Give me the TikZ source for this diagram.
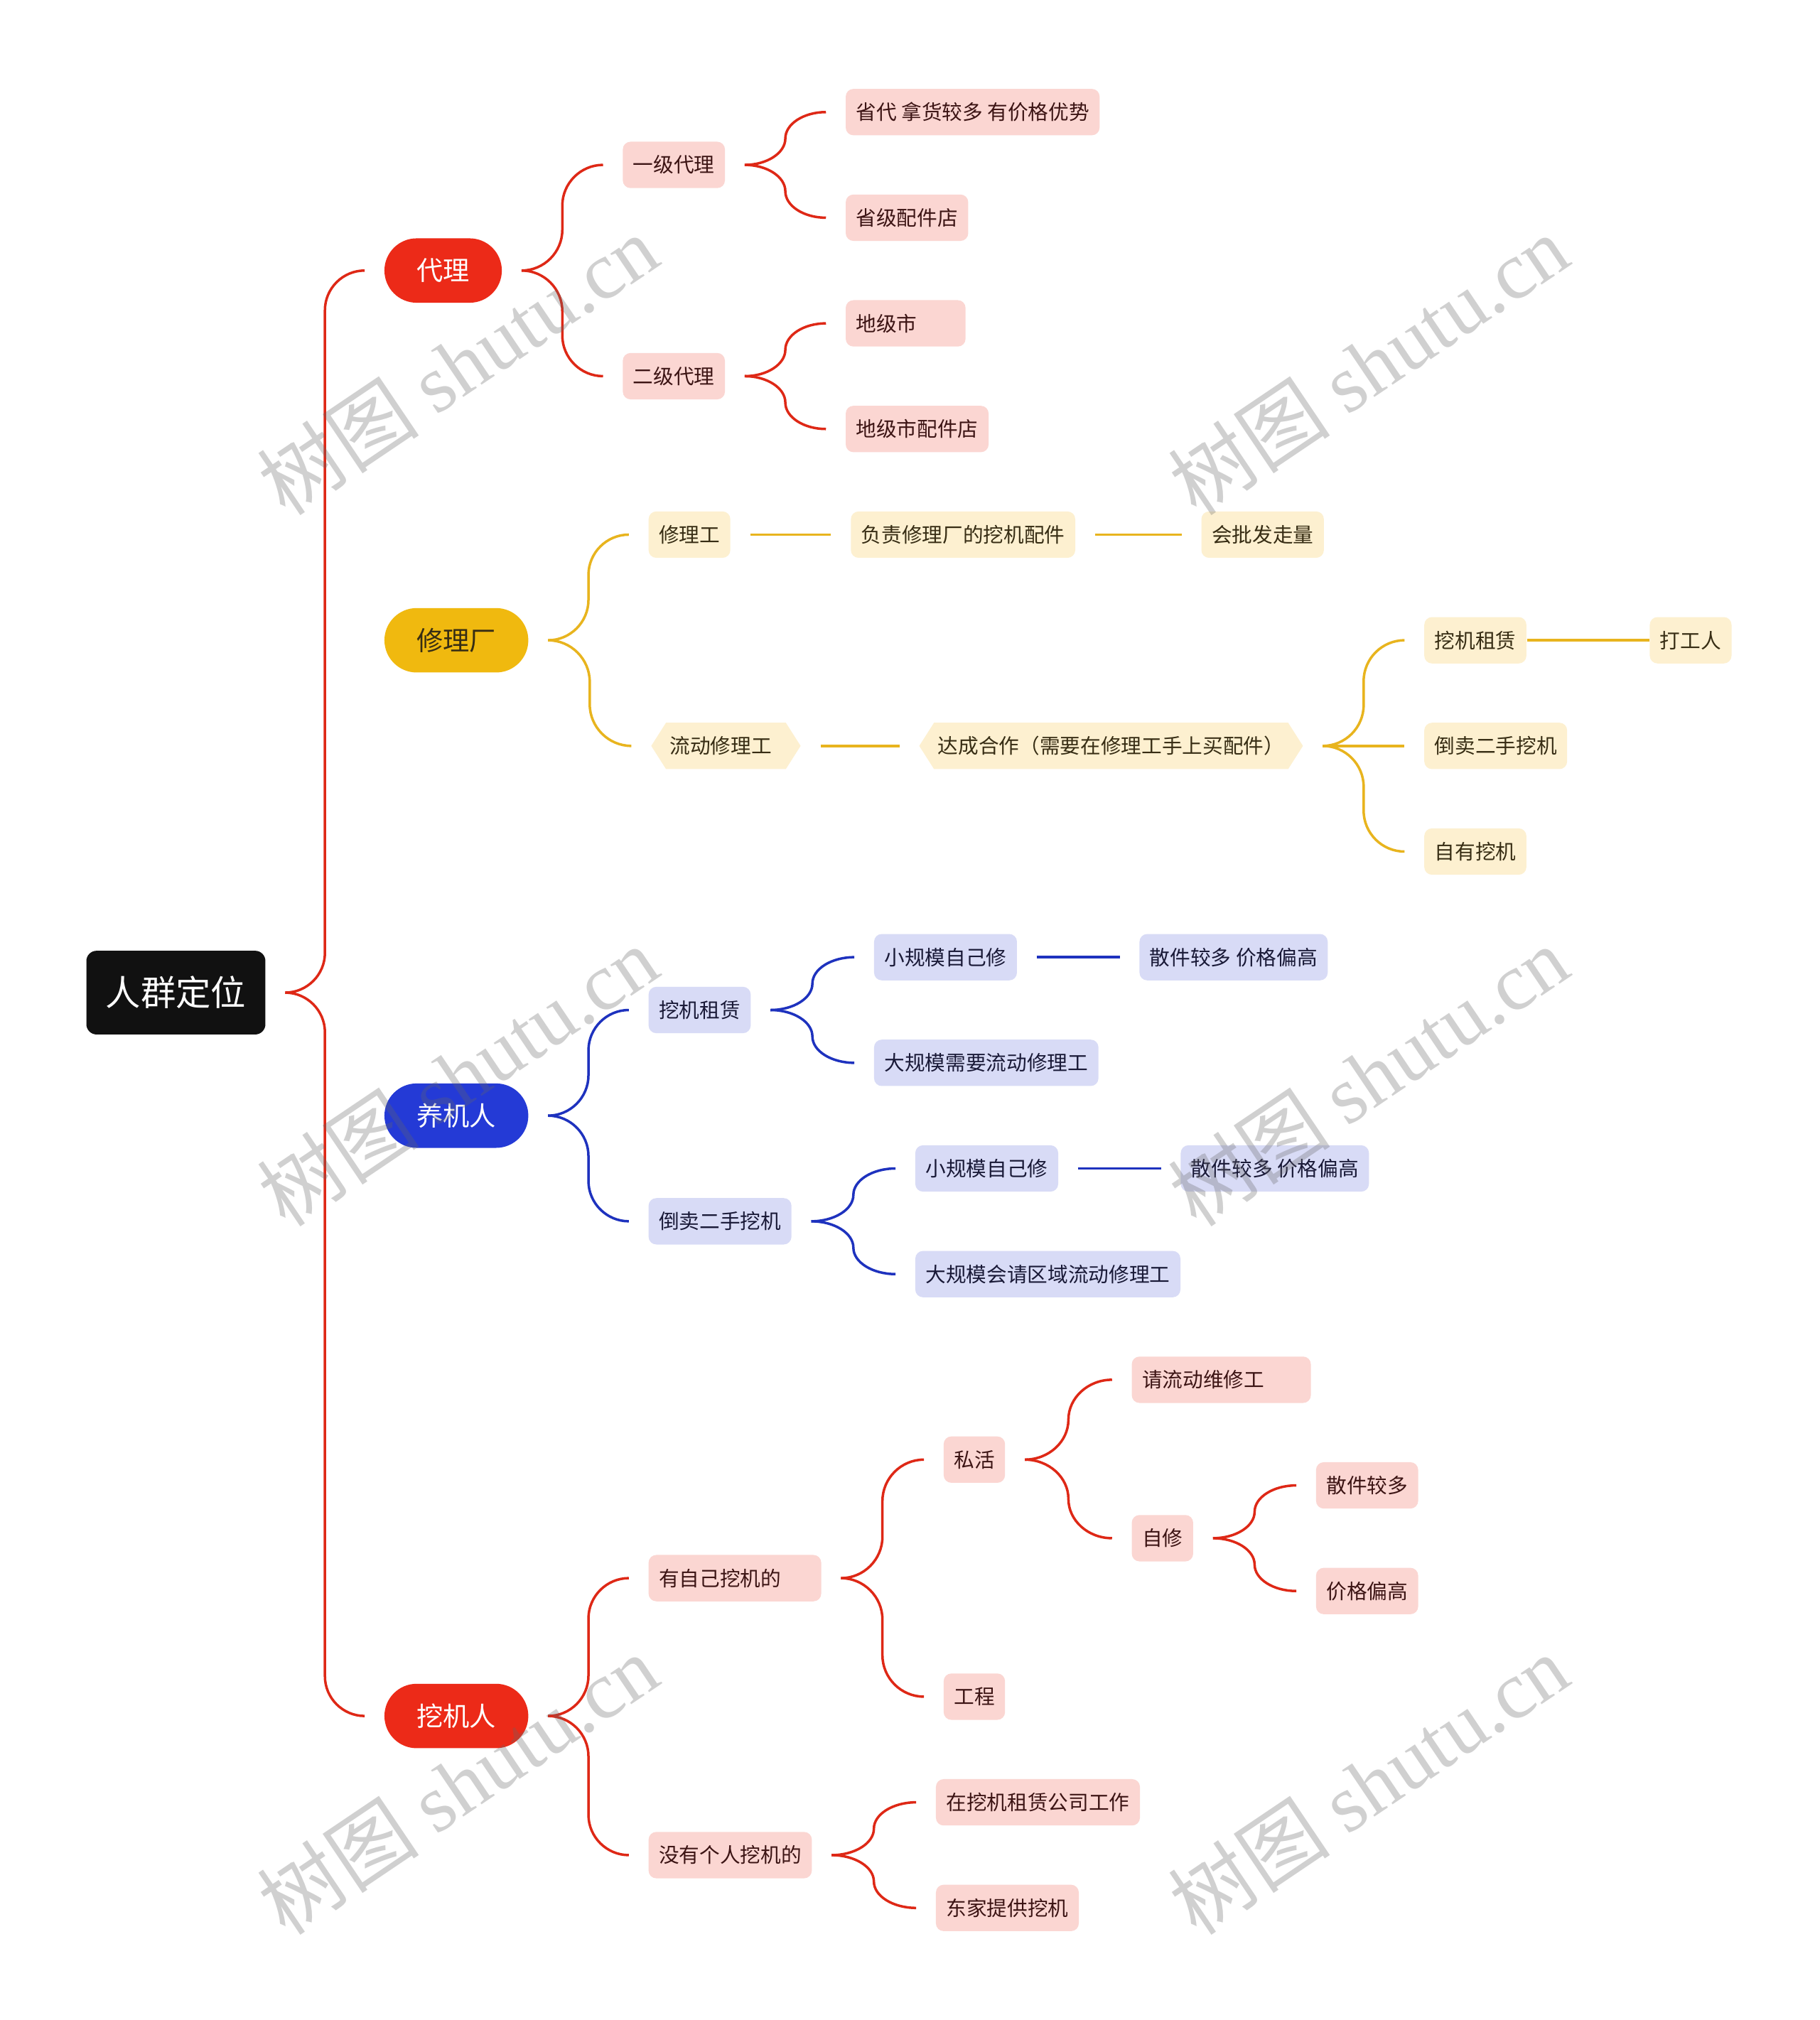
\documentclass[tikz,border=0pt]{standalone}
\usepackage{fontspec}
\setmainfont{Noto Sans CJK SC}
\newfontfamily\wmserif{Liberation Serif}
\usepackage{xcolor}
\usetikzlibrary{calc,shapes.symbols}
\definecolor{rootblack}{RGB}{17,17,17}
\definecolor{mapred}{RGB}{236,42,24}
\definecolor{mapyellow}{RGB}{240,185,15}
\definecolor{mapblue}{RGB}{36,58,214}
\definecolor{pinkbg}{RGB}{251,214,210}
\definecolor{creambg}{RGB}{253,240,208}
\definecolor{lavenderbg}{RGB}{216,219,246}
\definecolor{redtext}{RGB}{60,20,20}
\definecolor{browntext}{RGB}{55,45,20}
\definecolor{navytext}{RGB}{25,25,55}
\definecolor{redline}{RGB}{222,40,22}
\definecolor{yellowline}{RGB}{232,180,30}
\definecolor{blueline}{RGB}{30,50,190}

\tikzset{
  rootbox/.style={fill=rootblack,text=white,rounded corners=0.16cm,
    minimum width=2.78cm,minimum height=1.3cm,font=\fontsize{15.5}{18}\selectfont},
  topic/.style={anchor=west,rounded corners=0.5cm,minimum height=1cm,
    inner xsep=0.5cm,inner ysep=0pt,font=\fontsize{11.7}{14}\selectfont},
  leaf/.style={anchor=west,rounded corners=0.12cm,minimum height=0.72cm,
    inner xsep=0.16cm,inner ysep=0pt,align=left,font=\fontsize{9}{11}\selectfont},
  redleaf/.style={leaf,fill=pinkbg,text=redtext},
  yellowleaf/.style={leaf,fill=creambg,text=browntext},
  blueleaf/.style={leaf,fill=lavenderbg,text=navytext},
  hexleaf/.style={anchor=west,shape=signal,signal to=west and east,
    signal pointer angle=115,fill=creambg,text=browntext,minimum height=0.72cm,
    inner xsep=0.06cm,inner ysep=0pt,align=left,font=\fontsize{9}{11}\selectfont},
  redlink/.style={draw=redline,line width=1.1pt},
  yellowlink/.style={draw=yellowline,line width=1.1pt},
  bluelink/.style={draw=blueline,line width=1.1pt},
  watermark/.style={rotate=34,text=black!60,opacity=0.3,font=\fontsize{36}{38}\selectfont}
}

% brace-like connector: parent -> child, bends into a vertical line halfway
\newcommand\bracelink[3]{%
  \draw[#1] let \p1=($(#2.east)+(15,0)$), \p2=($(#3.west)-(15,0)$),
    \n1={(\x2-\x1)/2}, \n2={min(\n1,abs(\y2-\y1)/2)*sign(\y2-\y1)} in
    (\p1) .. controls (\x1+0.55*\n1,\y1) and (\x1+\n1,\y1+0.45*\n2) .. (\x1+\n1,\y1+\n2)
    -- (\x1+\n1,\y2-\n2) .. controls (\x1+\n1,\y2-0.45*\n2) and (\x2-0.55*\n1,\y2) .. (\p2);}
% straight connector with a gap at both ends
\newcommand\gaplink[3]{%
  \draw[#1] ($(#2.east)+(15,0)$) -- ($(#3.west)-(15,0)$);}

\begin{document}
\begin{tikzpicture}[x=0.02cm,y=-0.02cm]
  \fill[white] (0,0) rectangle (1412,1568);
  \useasboundingbox (0,0) rectangle (1412,1568);

  % root and main topics
  \node[rootbox] (root) at (136.5,770.5) {人群定位};
  \node[topic,fill=mapred,text=white] (daili) at (298,210) {代理};
  \node[topic,fill=mapyellow,text=browntext] (xiulichang) at (298,497) {修理厂};
  \node[topic,fill=mapblue,text=white] (yangjiren) at (298,866) {养机人};
  \node[topic,fill=mapred,text=white] (wajiren) at (298,1332) {挖机人};
  \bracelink{redlink}{root}{daili}
  \bracelink{redlink}{root}{wajiren}

  % 代理
  \node[redleaf] (yiji) at (483,128) {一级代理};
  \node[redleaf] (erji) at (483,292) {二级代理};
  \node[redleaf] (shengdai) at (656,87) {省代 拿货较多 有价格优势};
  \node[redleaf] (shengji) at (656,169) {省级配件店};
  \node[redleaf,text width=1.54cm] (diji) at (656,251) {地级市};
  \node[redleaf] (dijipei) at (656,333) {地级市配件店};
  \bracelink{redlink}{daili}{yiji}
  \bracelink{redlink}{daili}{erji}
  \bracelink{redlink}{yiji}{shengdai}
  \bracelink{redlink}{yiji}{shengji}
  \bracelink{redlink}{erji}{diji}
  \bracelink{redlink}{erji}{dijipei}

  % 修理厂
  \node[yellowleaf] (xiuligong) at (503,415) {修理工};
  \node[yellowleaf] (fuze) at (660,415) {负责修理厂的挖机配件};
  \node[yellowleaf] (pifa) at (932,415) {会批发走量};
  \node[hexleaf,text width=1.74cm] (liudong) at (505,579) {流动修理工};
  \node[hexleaf] (dacheng) at (713,579) {达成合作（需要在修理工手上买配件）};
  \node[yellowleaf] (zulinA) at (1105,497) {挖机租赁};
  \node[yellowleaf] (dagong) at (1280,497) {打工人};
  \node[yellowleaf] (daomaiA) at (1105,579) {倒卖二手挖机};
  \node[yellowleaf] (ziyou) at (1105,661) {自有挖机};
  \bracelink{yellowlink}{xiulichang}{xiuligong}
  \bracelink{yellowlink}{xiulichang}{liudong}
  \gaplink{yellowlink}{xiuligong}{fuze}
  \gaplink{yellowlink}{fuze}{pifa}
  \gaplink{yellowlink}{liudong}{dacheng}
  \foreach \t in {zulinA,daomaiA,ziyou}
    \bracelink{yellowlink}{dacheng}{\t};
  \draw[yellowlink] (zulinA) -- (dagong);

  % 养机人
  \node[blueleaf] (zulinB) at (503,784) {挖机租赁};
  \node[blueleaf] (xiaoA) at (678,743) {小规模自己修};
  \node[blueleaf] (sanjianA) at (884,743) {散件较多 价格偏高};
  \node[blueleaf] (daguiA) at (678,825) {大规模需要流动修理工};
  \node[blueleaf] (daomaiB) at (503,948) {倒卖二手挖机};
  \node[blueleaf] (xiaoB) at (710,907) {小规模自己修};
  \node[blueleaf] (sanjianB) at (916,907) {散件较多 价格偏高};
  \node[blueleaf] (daguiB) at (710,989) {大规模会请区域流动修理工};
  \bracelink{bluelink}{yangjiren}{zulinB}
  \bracelink{bluelink}{yangjiren}{daomaiB}
  \bracelink{bluelink}{zulinB}{xiaoA}
  \bracelink{bluelink}{zulinB}{daguiA}
  \bracelink{bluelink}{daomaiB}{xiaoB}
  \bracelink{bluelink}{daomaiB}{daguiB}
  \gaplink{bluelink}{xiaoA}{sanjianA}
  \gaplink{bluelink}{xiaoB}{sanjianB}

  % 挖机人
  \node[redleaf,text width=2.36cm] (youziji) at (503,1225) {有自己挖机的};
  \node[redleaf] (sihuo) at (732,1133) {私活};
  \node[redleaf,text width=2.46cm] (qingliudong) at (878,1071) {请流动维修工};
  \node[redleaf] (zixiu) at (878,1194) {自修};
  \node[redleaf] (sanjianC) at (1021,1153) {散件较多};
  \node[redleaf] (jiage) at (1021,1235) {价格偏高};
  \node[redleaf] (gongcheng) at (732,1317) {工程};
  \node[redleaf] (meiyou) at (503,1440) {没有个人挖机的};
  \node[redleaf] (zaiwaji) at (726,1399) {在挖机租赁公司工作};
  \node[redleaf] (dongjia) at (726,1481) {东家提供挖机};
  \bracelink{redlink}{wajiren}{youziji}
  \bracelink{redlink}{wajiren}{meiyou}
  \bracelink{redlink}{youziji}{sihuo}
  \bracelink{redlink}{youziji}{gongcheng}
  \bracelink{redlink}{sihuo}{qingliudong}
  \bracelink{redlink}{sihuo}{zixiu}
  \bracelink{redlink}{zixiu}{sanjianC}
  \bracelink{redlink}{zixiu}{jiage}
  \bracelink{redlink}{meiyou}{zaiwaji}
  \bracelink{redlink}{meiyou}{dongjia}

  % watermarks
  \foreach \wx in {355,1062}
    \foreach \wy in {283,835,1385}
      \node[watermark] (wm-\wx-\wy) at (\wx,\wy) {树图 {\wmserif shutu.cn}};
\end{tikzpicture}
\end{document}
